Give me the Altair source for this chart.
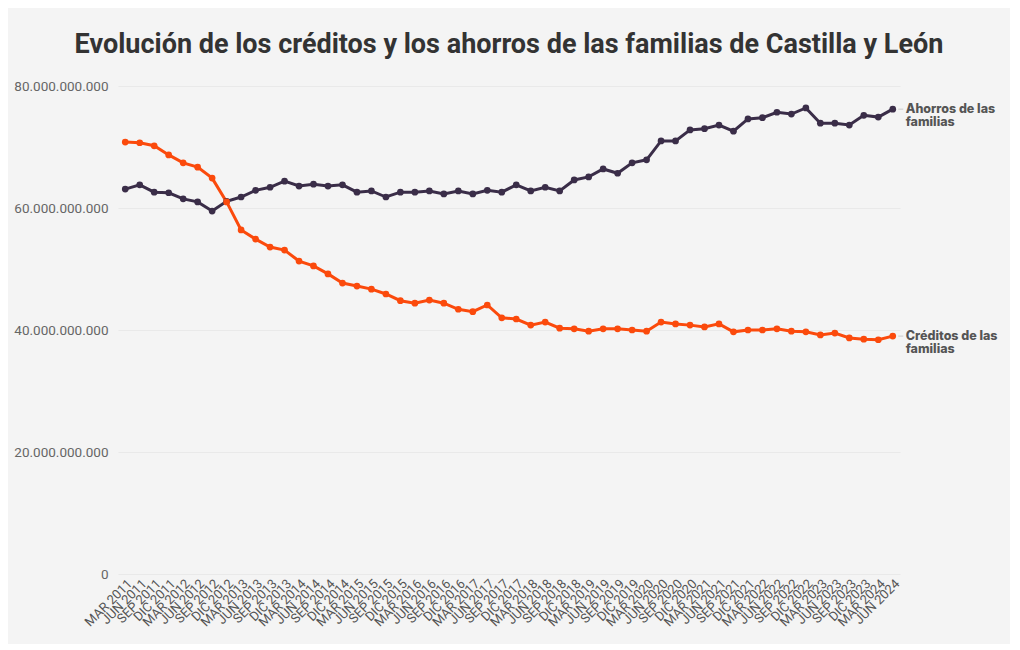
import altair as alt
import pandas as pd

months = ["MAR", "JUN", "SEP", "DIC"]
periods = [f"{m} {y}" for y in range(2011, 2025) for m in months][:54]

ahorros = [63.1, 63.8, 62.6, 62.5, 61.5, 61.0, 59.5, 61.1, 61.8, 62.9,
           63.4, 64.4, 63.6, 63.9, 63.6, 63.8, 62.6, 62.8, 61.8, 62.6,
           62.6, 62.8, 62.3, 62.8, 62.3, 62.9, 62.6, 63.8, 62.8, 63.4,
           62.8, 64.6, 65.1, 66.4, 65.7, 67.4, 67.9, 71.0, 71.0, 72.8,
           73.0, 73.6, 72.6, 74.6, 74.8, 75.7, 75.4, 76.4, 73.9, 73.9,
           73.6, 75.2, 74.9, 76.2]
creditos = [70.8, 70.7, 70.2, 68.7, 67.4, 66.7, 64.9, 61.0, 56.4, 54.9,
            53.6, 53.1, 51.3, 50.5, 49.2, 47.7, 47.2, 46.7, 45.9, 44.8,
            44.4, 44.9, 44.4, 43.4, 43.0, 44.1, 42.0, 41.8, 40.8, 41.3,
            40.3, 40.2, 39.8, 40.2, 40.2, 40.0, 39.8, 41.3, 41.0, 40.8,
            40.5, 41.0, 39.7, 40.0, 40.0, 40.2, 39.8, 39.7, 39.2, 39.5,
            38.7, 38.5, 38.4, 39.0]
series_names = ["Ahorros de las familias", "Créditos de las familias"]
series_labels = ["Ahorros de las\nfamilias", "Créditos de las\nfamilias"]
colors = ["#3a2d48", "#fb4a0c"]

rows = []
for name, lab, vals in zip(series_names, series_labels, [ahorros, creditos]):
    for i, (p, v) in enumerate(zip(periods, vals)):
        rows.append({"periodo": p, "serie": name, "label": lab,
                     "valor": v * 1e9, "idx": i})
df = pd.DataFrame(rows)

x = alt.X("periodo:O", sort=periods, title=None,
          scale=alt.Scale(type="point", padding=0.5),
          axis=alt.Axis(labelAngle=-45, labelFontSize=13, labelColor="#555",
                        labelFont="Roboto", ticks=False, domain=False,
                        labelPadding=3, grid=False, labelOverlap=False))
y = alt.Y("valor:Q", title=None,
          scale=alt.Scale(domain=[0, 80e9]),
          axis=alt.Axis(values=[0, 20e9, 40e9, 60e9, 80e9],
                        labelExpr="replace(format(datum.value, ','), /,/g, '.')",
                        labelFontSize=13.5, labelColor="#666", labelFont="Roboto",
                        ticks=False, domain=False, gridColor="#e9e9e9",
                        labelPadding=10))
color = alt.Color("serie:N", scale=alt.Scale(domain=series_names, range=colors),
                  legend=None)

base = alt.Chart(df)
lines = base.mark_line(strokeWidth=3).encode(x=x, y=y, color=color)
points = base.mark_circle(size=45, opacity=1).encode(x=x, y=y, color=color)
last = base.transform_filter(alt.datum.idx == 53)
dash = last.mark_tick(orient="horizontal", size=5, thickness=1, xOffset=8,
                      color="#bbbbbb").encode(x=x, y=y)
labels = last.mark_text(align="left", baseline="middle", dx=13, fontSize=12.5,
                        fontWeight=800, font="Inter", color="#555",
                        lineBreak="\n", lineHeight=13).encode(
    x=x, y=y, text="label:N")

chart = alt.layer(lines, points, dash, labels).properties(
    width=782, height=488,
    title=alt.TitleParams(
        "Evolución de los créditos y los ahorros de las familias de Castilla y León",
        font="Roboto", fontSize=27, fontWeight="bold",
        color="#333", anchor="middle", offset=20),
    background="#f4f4f4",
    autosize=alt.AutoSizeParams(type="none"),
    padding={"left": 110, "top": 78, "right": 110, "bottom": 70},
).configure_view(stroke=None)

chart.save("out.html", embed_options={"renderer": "svg", "actions": False})
